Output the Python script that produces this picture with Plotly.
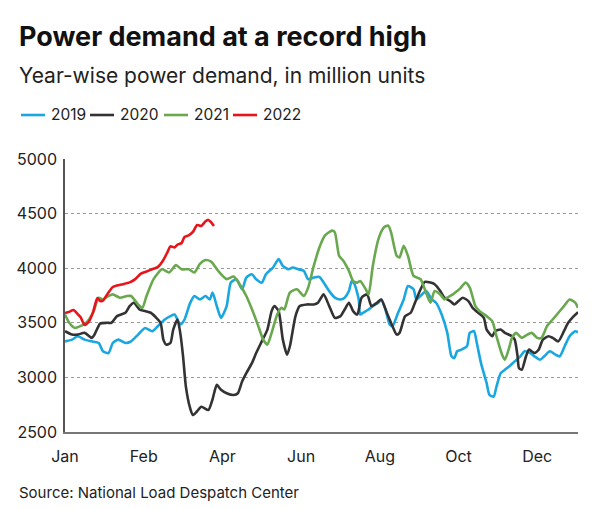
import plotly.graph_objects as go

# ---------------- data (day index within year, million units) ----------------
days_2019 = [0, 5, 9, 14, 19, 24, 27, 31, 34, 38, 43, 47, 52, 57, 62, 66, 71, 75, 78, 82, 85, 89, 92, 96,
             100, 103, 105, 108, 111, 115, 118, 122, 126, 129, 133, 136, 140, 143, 148, 152, 155, 159, 162,
             166, 170, 173, 177, 181, 184, 188, 192, 196, 199, 202, 204, 206, 209, 210, 212, 216, 219, 223,
             225, 228, 231, 233, 237, 241, 244, 248, 250, 254, 257, 261, 264, 268, 272, 275, 277, 279, 282,
             286, 288, 291, 293, 296, 300, 302, 305, 307, 310, 313, 316, 320, 324, 327, 331, 334, 338, 341,
             345, 349, 352, 356, 359, 363, 365]
vals_2019 = [3330, 3346, 3377, 3346, 3330, 3315, 3239, 3223, 3315, 3346, 3315, 3330, 3392, 3453, 3423, 3469,
             3530, 3561, 3576, 3484, 3530, 3680, 3745, 3714, 3745, 3714, 3776, 3653, 3545, 3653, 3868, 3899,
             3807, 3914, 3945, 3899, 3868, 3945, 4006, 4083, 4021, 3990, 4006, 3990, 3975, 3899, 3914, 3920,
             3870, 3790, 3730, 3714, 3730, 3791, 3883, 3853, 3714, 3576, 3592, 3622, 3653, 3684, 3714, 3622,
             3484, 3469, 3592, 3714, 3837, 3807, 3714, 3760, 3791, 3714, 3684, 3576, 3408, 3193, 3177, 3239,
             3254, 3285, 3408, 3423, 3315, 3131, 2947, 2840, 2824, 2916, 3039, 3070, 3100, 3147, 3193, 3239,
             3223, 3193, 3162, 3193, 3239, 3208, 3193, 3300, 3377, 3423, 3413]

days_2020 = [0, 5, 9, 14, 19, 21, 25, 30, 33, 37, 43, 46, 49, 53, 57, 61, 65, 68, 70, 72, 75, 77, 80, 82,
             84, 86, 89, 91, 94, 97, 102, 105, 108, 111, 115, 120, 123, 126, 129, 133, 136, 140, 144, 147,
             149, 152, 155, 158, 160, 164, 167, 172, 177, 180, 184, 188, 192, 196, 199, 202, 205, 208, 211,
             215, 218, 222, 225, 229, 233, 236, 238, 242, 246, 249, 253, 256, 260, 263, 267, 270, 274, 277,
             280, 283, 287, 290, 294, 298, 300, 304, 306, 310, 313, 318, 320, 322, 323, 325, 328, 330, 332,
             334, 337, 340, 344, 347, 351, 355, 358, 362, 365]
vals_2020 = [3423, 3392, 3392, 3408, 3362, 3392, 3493, 3500, 3500, 3561, 3592, 3653, 3684, 3622, 3607, 3592,
             3545, 3500, 3346, 3300, 3315, 3438, 3530, 3408, 3193, 2916, 2720, 2655, 2690, 2732, 2701, 2800,
             2932, 2886, 2855, 2839, 2855, 2962, 3039, 3131, 3223, 3330, 3438, 3607, 3653, 3607, 3346, 3208,
             3285, 3561, 3653, 3668, 3668, 3684, 3760, 3653, 3545, 3561, 3622, 3684, 3607, 3576, 3730, 3760,
             3653, 3684, 3714, 3592, 3469, 3392, 3408, 3561, 3592, 3684, 3807, 3874, 3868, 3853, 3791, 3730,
             3700, 3668, 3699, 3730, 3699, 3637, 3592, 3545, 3438, 3377, 3423, 3438, 3408, 3377, 3346, 3193,
             3085, 3070, 3193, 3254, 3239, 3223, 3254, 3346, 3377, 3362, 3330, 3423, 3500, 3561, 3598]

days_2021 = [0, 3, 7, 11, 15, 20, 24, 27, 31, 34, 39, 44, 47, 52, 55, 58, 63, 69, 74, 79, 83, 88, 92, 96,
             100, 104, 109, 115, 120, 125, 129, 134, 138, 141, 144, 147, 151, 154, 156, 160, 165, 170, 173,
             177, 181, 185, 190, 192, 195, 198, 202, 205, 208, 210, 214, 216, 219, 223, 227, 230, 232, 236,
             238, 241, 244, 248, 253, 256, 260, 263, 267, 270, 272, 276, 279, 281, 285, 288, 292, 295, 300,
             304, 307, 311, 313, 316, 318, 321, 325, 329, 332, 336, 339, 343, 347, 350, 355, 359, 363, 365]
vals_2021 = [3576, 3500, 3453, 3470, 3500, 3592, 3730, 3714, 3745, 3760, 3730, 3745, 3745, 3668, 3637, 3745,
             3900, 3990, 3960, 4028, 3990, 3990, 3960, 4040, 4075, 4060, 3975, 3900, 3923, 3837, 3745, 3592,
             3453, 3346, 3300, 3407, 3576, 3637, 3622, 3776, 3807, 3745, 3822, 4021, 4190, 4300, 4344, 4328,
             4114, 4068, 3975, 3883, 3868, 3883, 3807, 3760, 4021, 4267, 4375, 4390, 4328, 4114, 4098, 4206,
             4114, 3929, 3899, 3807, 3684, 3791, 3760, 3714, 3730, 3760, 3791, 3813, 3868, 3822, 3653, 3607,
             3561, 3515, 3377, 3208, 3162, 3270, 3362, 3408, 3362, 3392, 3408, 3362, 3362, 3470, 3530, 3576,
             3653, 3714, 3684, 3637]

days_2022 = [0, 3, 6, 9, 11, 14, 17, 20, 23, 25, 27, 30, 34, 40, 46, 50, 54, 58, 62, 66, 70, 73, 75, 78,
             80, 83, 85, 88, 91, 94, 97, 100, 102, 104, 106]
vals_2022 = [3590, 3600, 3617, 3580, 3553, 3480, 3510, 3600, 3727, 3700, 3703, 3760, 3828, 3850, 3870, 3900,
             3950, 3970, 3990, 4010, 4075, 4150, 4200, 4190, 4215, 4231, 4286, 4300, 4332, 4396, 4387, 4430,
             4442, 4420, 4387]

series_names = ["2019", "2020", "2021", "2022"]
series_colors = ["#1aa7e1", "#333333", "#6aa84f", "#e8141c"]

tick_days = [0, 56, 112, 168, 224, 280, 336]
tick_labels = ["Jan", "Feb", "Apr", "Jun", "Aug", "Oct", "Dec"]
y_ticks = [2500, 3000, 3500, 4000, 4500, 5000]

title_text = "Power demand at a record high"
subtitle_text = "Year-wise power demand, in million units"
source_text = "Source: National Load Despatch Center"

# ---------------- layout geometry ----------------
# the page body has an 8px default margin, so the figure sits 8px in from the window corner
OFF = 8
W, H = 600 - OFF, 509 - OFF
L, T = 65 - OFF, 159 - OFF
R = W - (578 - OFF)
B = H - (432 - OFF)
pw, ph = W - L - R, H - T - B


def px_x(x):  # window pixel -> paper fraction
    return (x - OFF - L) / pw


def px_y(y):
    return (H - B - (y - OFF)) / ph


FONT = "Inter, 'Open Sans', sans-serif"

fig = go.Figure()
all_days = [days_2019, days_2020, days_2021, days_2022]
all_vals = [vals_2019, vals_2020, vals_2021, vals_2022]
for name, col, d, v in zip(series_names, series_colors, all_days, all_vals):
    fig.add_trace(go.Scatter(x=d, y=v, mode="lines", name=name,
                             line=dict(color=col, width=2.6, shape="spline", smoothing=0.6)))

# legend drawn as line swatches + labels (window-pixel start of each entry)
legend_x0 = [21, 90, 164, 233]
legend_y = 115
shapes = []
annotations = []
for name, col, x0 in zip(series_names, series_colors, legend_x0):
    shapes.append(dict(type="line", xref="paper", yref="paper",
                       x0=px_x(x0), x1=px_x(x0 + 24), y0=px_y(legend_y), y1=px_y(legend_y),
                       line=dict(color=col, width=2.6)))
    annotations.append(dict(text=name, x=px_x(x0 + 28), y=px_y(legend_y), xref="paper", yref="paper",
                            xanchor="left", yanchor="middle", showarrow=False,
                            font=dict(size=15.5, color="#222", family=FONT)))

annotations += [
    dict(text="<b>" + title_text + "</b>", x=px_x(17), y=px_y(36), xref="paper", yref="paper",
         xanchor="left", yanchor="middle", showarrow=False,
         font=dict(size=27, color="#111", family=FONT)),
    dict(text=subtitle_text, x=px_x(17), y=px_y(75), xref="paper", yref="paper",
         xanchor="left", yanchor="middle", showarrow=False,
         font=dict(size=21, color="#222", family=FONT)),
    dict(text=source_text, x=px_x(17), y=px_y(492), xref="paper", yref="paper",
         xanchor="left", yanchor="middle", showarrow=False,
         font=dict(size=15, color="#222", family=FONT)),
]

fig.update_layout(
    width=W, height=H,
    margin=dict(l=L, r=R, t=T, b=B, autoexpand=False),
    paper_bgcolor="white", plot_bgcolor="white",
    font=dict(family=FONT, color="#222", size=16),
    showlegend=False,
    xaxis=dict(range=[0, 365], tickvals=tick_days, ticktext=tick_labels, showgrid=False,
               zeroline=False, showline=True, linecolor="#777", linewidth=1.5,
               ticks="", tickfont=dict(size=16, color="#222"), ticklabelstandoff=9, fixedrange=True),
    yaxis=dict(range=[2500, 5000], tickvals=y_ticks, showgrid=True, gridcolor="#9a9a9a",
               griddash="dot", gridwidth=1, zeroline=False, showline=True, linecolor="#555",
               linewidth=1.5, ticks="", tickfont=dict(size=16, color="#222"), ticklabelstandoff=3,
               fixedrange=True),
    shapes=shapes,
    annotations=annotations,
)

fig.write_html("out.html")
